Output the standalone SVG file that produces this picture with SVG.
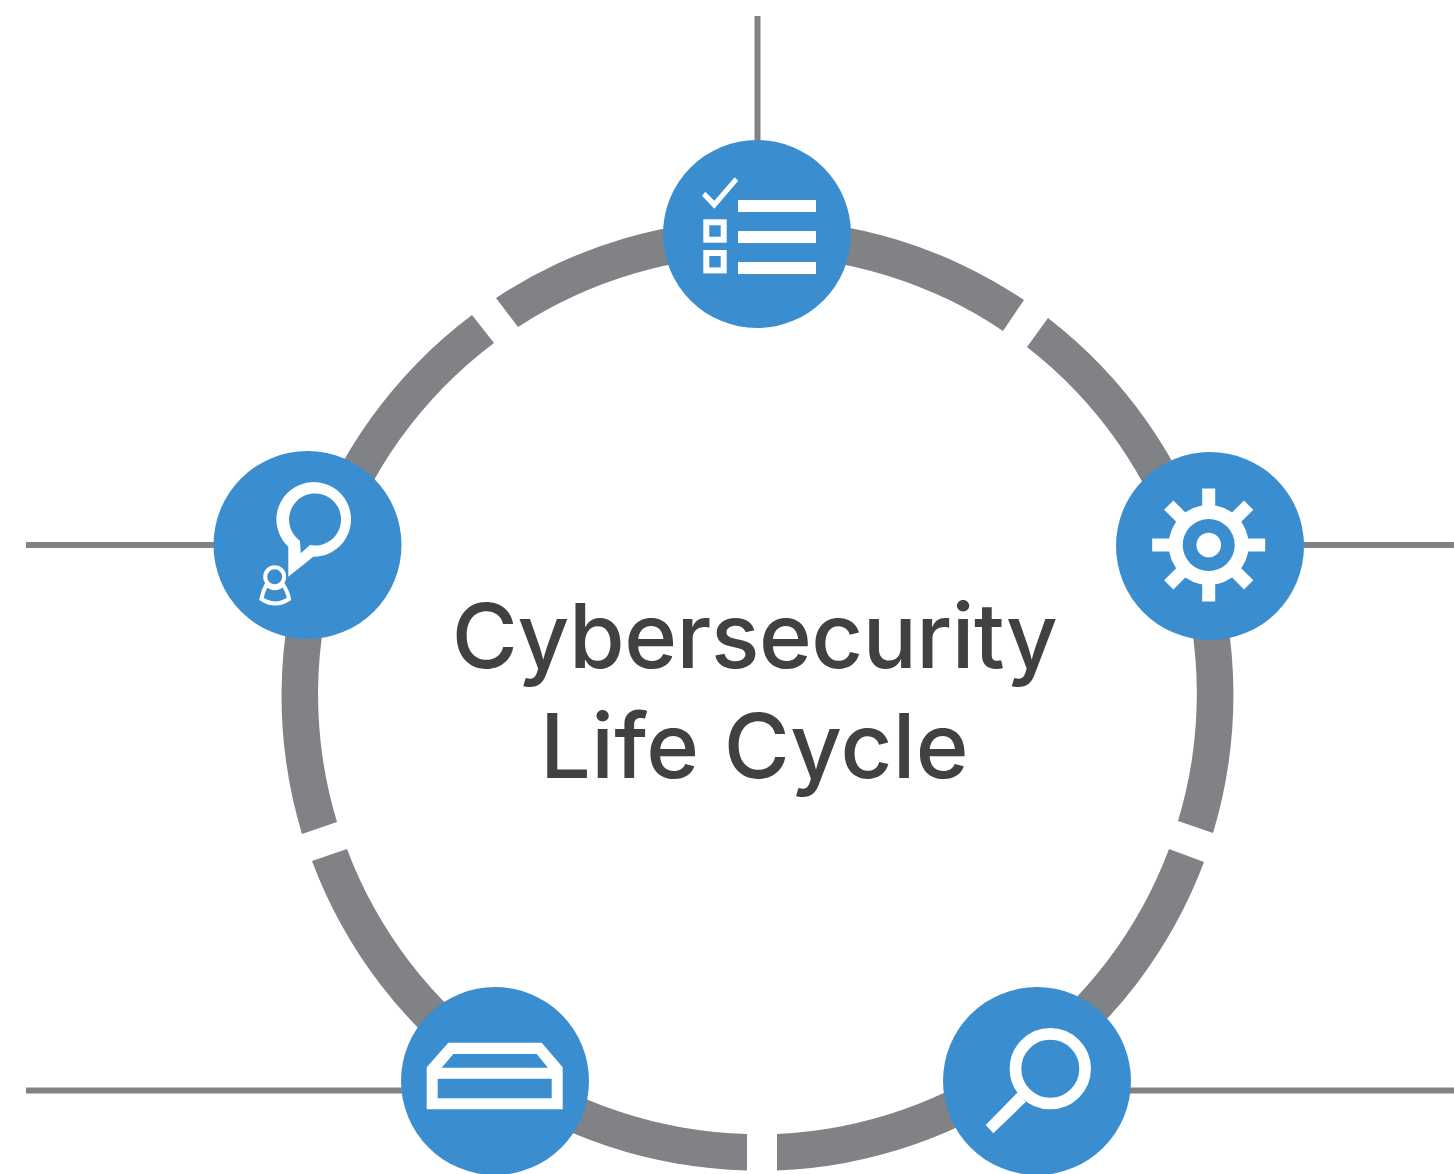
<svg xmlns="http://www.w3.org/2000/svg" width="1454" height="1174" viewBox="0 0 1454 1174">
<style>
.seg{fill:#808285}
.lead{stroke:#808285;stroke-width:6;fill:none}
.disc{fill:#3a8ecf}
.ic{fill:#fff}
.ol{fill:none;stroke:#fff}
.t{font-family:"Inter","Noto Sans",sans-serif;font-size:90px;font-weight:550;fill:#414042;text-anchor:middle}
</style>
<rect width="1454" height="1174" fill="#fff"/>
<g id="connectors">
<path class="lead" d="M757.5 16V142M26 545H216M1302 545H1454M26 1090.500H404M1128 1090.500H1454"/>
<path class="seg" d="M496 298A476 476 0 0 1 1024 300L1003 331A439 439 0 0 0 518 327Z"/>
<path class="seg" d="M1048 318A476 476 0 0 1 1213 833L1178 821A439 439 0 0 0 1027 347Z"/>
<path class="seg" d="M1204 862A476 476 0 0 1 777 1170.500V1134A439 439 0 0 0 1169 849Z"/>
<path class="seg" d="M747 1170.500A476 476 0 0 1 312 861L347 849A439 439 0 0 0 747 1134Z"/>
<path class="seg" d="M302 834A476 476 0 0 1 472 315L494 343A439 439 0 0 0 337 822Z"/>
</g>
<g id="node-plan">
<circle class="disc" cx="757" cy="234" r="94"/>
<path class="ic" d="M738 200H816V212H738ZM738 231H816V243H738ZM738 262H816V274H738ZM702 195.700L705.300 191.700L714.300 200.700L734.700 177.300L738.300 180.700L714.300 208.700Z"/>
<rect class="ol" stroke-width="6" x="706.300" y="222.300" width="17.400" height="17.400"/>
<rect class="ol" stroke-width="6" x="706.300" y="253" width="17.400" height="17.400"/>
</g>
<g id="node-configure">
<circle class="disc" cx="1210" cy="546" r="94"/>
<g transform="translate(1208.700 545)">
<circle class="ic" r="40"/>
<rect class="ic" x="-6.500" y="-56.500" width="13" height="113"/>
<rect class="ic" x="-6.500" y="-56.500" width="13" height="113" transform="rotate(45)"/>
<rect class="ic" x="-6.500" y="-56.500" width="13" height="113" transform="rotate(90)"/>
<rect class="ic" x="-6.500" y="-56.500" width="13" height="113" transform="rotate(135)"/>
<circle class="disc" r="26"/>
<circle class="ic" r="12.300"/>
</g>
</g>
<g id="node-monitor">
<circle class="disc" cx="1037" cy="1081" r="94"/>
<circle class="ol" stroke-width="11.700" cx="1050.300" cy="1068.700" r="34.800"/>
<path class="ic" d="M1017.300 1092.700L985.700 1125L993.300 1133.300L1026 1101.700Z"/>
</g>
<g id="node-store">
<circle class="disc" cx="495" cy="1081" r="94"/>
<path class="ic" fill-rule="evenodd" d="M426.700 1067.300L448.300 1042.700H541.700L562.700 1067.300V1109.300H426.700ZM441.700 1067.700H548L536.700 1054H453.300ZM437.700 1078.700V1098.300H551.700V1078.700Z"/>
</g>
<g id="node-respond">
<circle class="disc" cx="307.500" cy="545" r="94"/>
<path class="ic" fill-rule="evenodd" d="M288.300 576.700V546.700A37.300 37.300 0 1 1 313.300 556.700ZM300.700 553.300L310 545A26 26 0 1 0 300 540.700Z"/>
<circle class="ol" stroke-width="4" cx="274.700" cy="576.700" r="9.500"/>
<path class="ol" stroke-width="4" d="M266.500 584.500Q262.500 592 261.500 599Q275 608 289 599Q288 592 283 584.500Q275 592 266.500 584.500Z"/>
</g>
<g id="title">
<text class="t" x="754.500" y="667.500" letter-spacing="-0.5">Cybersecurity</text>
<text class="t" x="754.500" y="777.500" letter-spacing="0.3">Life Cycle</text>
</g>
</svg>
